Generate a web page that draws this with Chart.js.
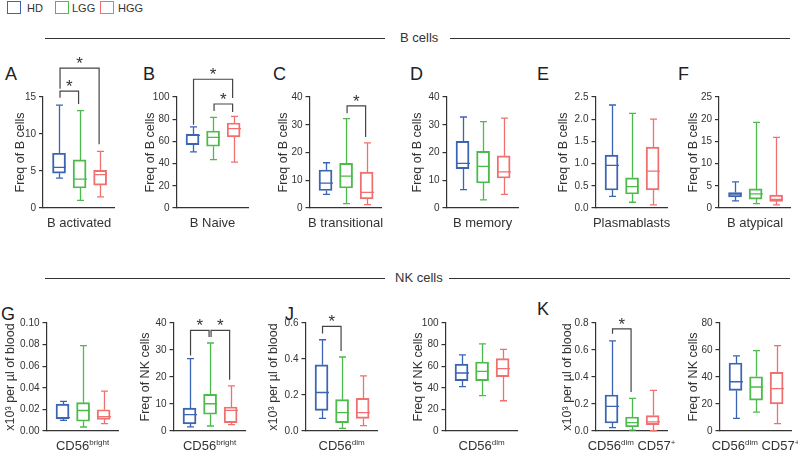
<!DOCTYPE html>
<html>
<head>
<meta charset="utf-8">
<script src="https://cdn.jsdelivr.net/npm/chart.js@4.4.1/dist/chart.umd.min.js"></script>
<style>
  body { margin: 0; background: #fff; font-family: "Liberation Sans", Arial, sans-serif; color: #333; }
  #page { position: relative; width: 798px; height: 453px; overflow: hidden; }
  .abs { position: absolute; white-space: nowrap; }
  .sq { position: absolute; width: 12px; height: 11px; border: 1.5px solid; }
  .line { position: absolute; height: 0; border-top: 1px solid #333; }
  .letter { position: absolute; font-size: 18px; line-height: 18px; color: #222; }
  .xt { position: absolute; font-size: 13px; line-height: 13px; transform: translateX(-50%); white-space: nowrap; }
  .xt sup { font-size: 8px; vertical-align: 5px; line-height: 0; }
  canvas { position: absolute; }
</style>
</head>
<body>
<div id="page">
  <div class="sq" style="left:7px;top:1px;border-color:#3b64b3"></div>
  <div class="abs" style="left:27px;top:2px;font-size:11px">HD</div>
  <div class="sq" style="left:55px;top:1px;border-color:#4cbb4c"></div>
  <div class="abs" style="left:72px;top:2px;font-size:11px">LGG</div>
  <div class="sq" style="left:100px;top:1px;border-color:#f07070"></div>
  <div class="abs" style="left:118px;top:2px;font-size:11px">HGG</div>

  <div class="line" style="left:45px;width:340px;top:38px"></div>
  <div class="abs" style="left:400px;top:31px;font-size:13px;line-height:13px">B cells</div>
  <div class="line" style="left:450px;width:340px;top:38px"></div>

  <div class="line" style="left:45px;width:340px;top:278px"></div>
  <div class="abs" style="left:395px;top:271px;font-size:13px;line-height:13px">NK cells</div>
  <div class="line" style="left:449px;width:341px;top:278px"></div>

  <div class="letter" style="left:5px;top:65px">A</div>
  <div class="letter" style="left:143px;top:65px">B</div>
  <div class="letter" style="left:273px;top:65px">C</div>
  <div class="letter" style="left:410px;top:65px">D</div>
  <div class="letter" style="left:537px;top:65px">E</div>
  <div class="letter" style="left:678px;top:65px">F</div>
  <div class="letter" style="left:1px;top:305px">G</div>
  <div class="letter" style="left:285px;top:305px">J</div>
  <div class="letter" style="left:537px;top:300px">K</div>
</div>
<script>
// groups
const groups = ["HD", "LGG", "HGG"];
const groupColors = ["#3b64b3", "#4cbb4c", "#f07070"];

// box stats per group: [min, q1, median, q3, max]
const bActivated = [[4.05, 4.7, 5.5, 7.4, 13.9], [1.04, 2.7, 3.9, 6.5, 13.15], [1.5, 3.1, 4.5, 5.1, 7.65]];
const bNaive = [[50.5, 57, 65.5, 66.7, 73], [43.5, 55.6, 63.7, 69.4, 81.7], [41.4, 64, 71.5, 76.6, 82.6]];
const bTransitional = [[4.9, 6.3, 9.0, 13.7, 16.3], [1.6, 7.2, 11.5, 16.1, 32.2], [1.2, 3.3, 5.6, 12.9, 23.5]];
const bMemory = [[6.6, 14.2, 16.1, 24, 32.8], [2.9, 9, 15, 20.4, 31.1], [4.9, 10.8, 13, 18.8, 32.4]];
const plasmablasts = [[0.26, 0.405, 0.96, 1.19, 2.32], [0.13, 0.315, 0.48, 0.68, 2.13], [0.07, 0.41, 0.83, 1.37, 2.0]];
const bAtypical = [[1.6, 2.5, 3.15, 3.5, 5.9], [1.0, 2.0, 3.2, 4.3, 19.3], [0.7, 1.5, 1.95, 2.9, 15.9]];
const nkBrightCount = [[0.0099, 0.0111, 0.0123, 0.025, 0.0275], [0.0037, 0.009, 0.019, 0.0262, 0.079], [0.0068, 0.0108, 0.0133, 0.0197, 0.037]];
const nkBrightFreq = [[1.5, 2.6, 6.05, 8.5, 26.8], [1.85, 6.2, 10.1, 13.6, 32.6], [2.35, 3.1, 7.65, 8.9, 16.7]];
const nkDimCount = [[0.07, 0.115, 0.214, 0.368, 0.507], [0.015, 0.046, 0.102, 0.174, 0.411], [0.03, 0.07, 0.102, 0.181, 0.306]];
const nkDimFreq = [[41, 46.6, 53.7, 62, 70.4], [32.7, 46.6, 55.2, 63.9, 80.6], [28, 50.3, 57.7, 67, 75.6]];
const nkDim57Count = [[0.025, 0.059, 0.183, 0.267, 0.667], [0.007, 0.03, 0.062, 0.104, 0.242], [0.002, 0.047, 0.067, 0.114, 0.301]];
const nkDim57Freq = [[9.4, 30, 36.5, 50.4, 55.6], [14, 22.9, 32.6, 40.2, 59.5], [5.4, 20, 31.4, 43.5, 63.2]];

// significance: [group a, group b, bracket level, left leg end, right leg end]
const bActivatedSig = [[0, 1, 15.8, 14.9, 14.05], [0, 2, 18.9, 16.1, 8.6]];
const bNaiveSig = [[0, 2, 116, 75, 99], [1, 2, 93.7, 87.5, 86.5]];
const bTransitionalSig = [[1, 2, 36.8, 34.1, 25.6]];
const nkBrightFreqSig = [[0, 1, 37.3, 28, 34.8], [1, 2, 37.3, 34.8, 19]];
const nkDimCountSig = [[0, 1, 0.581, 0.541, 0.444]];
const nkDim57CountSig = [[0, 1, 0.756, 0.721, 0.289]];

// tick labels
const ticks15 = ["0", "5", "10", "15"];
const ticks100 = ["0", "20", "40", "60", "80", "100"];
const ticks40 = ["0", "10", "20", "30", "40"];
const ticks25d = ["0.0", "0.5", "1.0", "1.5", "2.0", "2.5"];
const ticks25 = ["0", "5", "10", "15", "20", "25"];
const ticks010 = ["0.00", "0.02", "0.04", "0.06", "0.08", "0.10"];
const ticks06 = ["0.0", "0.2", "0.4", "0.6"];
const ticks08 = ["0.0", "0.2", "0.4", "0.6", "0.8"];
const ticks80 = ["0", "20", "40", "60", "80"];

const panelTitles = ["B activated", "B Naive", "B transitional", "B memory", "Plasmablasts", "B atypical",
  "CD56<sup>bright</sup>", "CD56<sup>bright</sup>", "CD56<sup>dim</sup>", "CD56<sup>dim</sup>",
  "CD56<sup>dim</sup> CD57<sup>+</sup>", "CD56<sup>dim</sup> CD57<sup>+</sup>"];
const freqB = "Freq of B cells", freqNK = "Freq of NK cells", perUl = "x10\u00b3 per \u00b5l of blood";

const panels = [
  [bActivated, bActivatedSig, ticks15, freqB],
  [bNaive, bNaiveSig, ticks100, freqB],
  [bTransitional, bTransitionalSig, ticks40, freqB],
  [bMemory, [], ticks40, freqB],
  [plasmablasts, [], ticks25d, freqB],
  [bAtypical, [], ticks25, freqB],
  [nkBrightCount, [], ticks010, perUl],
  [nkBrightFreq, nkBrightFreqSig, ticks40, freqNK],
  [nkDimCount, nkDimCountSig, ticks06, perUl],
  [nkDimFreq, [], ticks100, freqNK],
  [nkDim57Count, nkDim57CountSig, ticks08, perUl],
  [nkDim57Freq, [], ticks80, freqNK]
];

// layout: [y title centre x, first box centre x, row]
const layout = [
  [20, 58.5, 0], [150, 192, 0], [283, 325, 0], [417, 462, 0], [563, 611, 0], [693, 734.5, 0],
  [10, 62, 1], [145, 189, 1], [273, 321, 1], [418, 461, 1], [567, 611, 1], [693, 735, 1]
];
const rowTop = [50, 285], rowPadTop = [47, 38], rowHeight = [168, 156], rowTitleTop = [216, 439];
const xMin = -0.78, xMax = 2.7, plotW = 71.5, firstOff = 16;
const yTitleSize = 12.5;

Chart.defaults.font.family = '"Liberation Sans", Arial, sans-serif';
Chart.defaults.color = "#333";

const boxPlugin = {
  id: "boxes",
  afterDatasetsDraw(chart, args, opts) {
    const { ctx, scales: { x, y } } = chart;
    const half = 6.5, cap = 3.5;
    ctx.save();
    ctx.lineWidth = 1.3;
    opts.stats.forEach((s, i) => {
      const cx = Math.round(x.getPixelForValue(i)) + 0.5;
      ctx.strokeStyle = groupColors[i];
      ctx.beginPath();
      ctx.moveTo(cx, y.getPixelForValue(s[3]));
      ctx.lineTo(cx, y.getPixelForValue(s[4]));
      ctx.moveTo(cx - cap, y.getPixelForValue(s[4]));
      ctx.lineTo(cx + cap, y.getPixelForValue(s[4]));
      ctx.moveTo(cx, y.getPixelForValue(s[1]));
      ctx.lineTo(cx, y.getPixelForValue(s[0]));
      ctx.moveTo(cx - cap, y.getPixelForValue(s[0]));
      ctx.lineTo(cx + cap, y.getPixelForValue(s[0]));
      ctx.moveTo(cx - half, y.getPixelForValue(s[2]));
      ctx.lineTo(cx + half, y.getPixelForValue(s[2]));
      ctx.stroke();
    });
    ctx.strokeStyle = "#444";
    ctx.fillStyle = "#333";
    ctx.lineWidth = 1.2;
    ctx.font = '17px "Liberation Sans", Arial, sans-serif';
    ctx.textAlign = "center";
    ctx.textBaseline = "alphabetic";
    opts.sig.forEach(b => {
      const x1 = x.getPixelForValue(b[0]) + 1, x2 = x.getPixelForValue(b[1]) - 1;
      const yl = y.getPixelForValue(b[2]);
      ctx.beginPath();
      ctx.moveTo(x1, y.getPixelForValue(b[3]));
      ctx.lineTo(x1, yl);
      ctx.lineTo(x2, yl);
      ctx.lineTo(x2, y.getPixelForValue(b[4]));
      ctx.stroke();
      ctx.fillText("*", (x1 + x2) / 2, yl + 1);
    });
    ctx.restore();
  }
};

const page = document.getElementById("page");

panels.forEach((p, k) => {
  const [stats, sig, tickLabels, yTitle] = p;
  const [titleX, firstX, row] = layout[k];
  const axisX = firstX - firstOff;
  const left = titleX - yTitleSize * 0.6;
  const yw = axisX - left;
  const canvas = document.createElement("canvas");
  canvas.width = Math.round(yw + plotW + 4);
  canvas.height = rowHeight[row];
  canvas.style.left = left + "px";
  canvas.style.top = rowTop[row] + "px";
  page.appendChild(canvas);

  const tickVals = tickLabels.map(parseFloat);
  const chart = new Chart(canvas.getContext("2d"), {
    type: "bar",
    data: {
      datasets: [{
        data: stats.map((s, i) => ({ x: i, y: [s[1], s[3]] })),
        backgroundColor: "rgba(0,0,0,0)",
        borderColor: groupColors,
        borderWidth: 1.3,
        borderSkipped: false,
        barThickness: 13
      }]
    },
    options: {
      responsive: false,
      animation: false,
      layout: { padding: { top: rowPadTop[row], left: 0, right: canvas.width - yw - plotW, bottom: 10 } },
      plugins: {
        legend: { display: false },
        tooltip: { enabled: false },
        boxes: { stats: stats, sig: sig }
      },
      scales: {
        x: {
          type: "linear",
          min: xMin,
          max: xMax,
          offset: false,
          ticks: { display: false },
          grid: { display: false },
          border: { display: true, color: "#333", width: 1.2 },
          afterFit: s => { s.height = 0; }
        },
        y: {
          min: 0,
          max: tickVals[tickVals.length - 1],
          afterBuildTicks: s => { s.ticks = tickVals.map(v => ({ value: v })); },
          ticks: {
            font: { size: 10 },
            color: "#333",
            padding: 3,
            callback: (v, i) => tickLabels[i]
          },
          grid: { display: true, drawOnChartArea: false, drawTicks: true, tickLength: 4, color: "#333", lineWidth: 1.2 },
          border: { display: true, color: "#333", width: 1.2 },
          title: { display: true, text: yTitle, font: { size: yTitleSize }, color: "#333", padding: 0 },
          afterFit: s => { s.width = yw; }
        }
      }
    },
    plugins: [boxPlugin]
  });

  const t = document.createElement("div");
  t.className = "xt";
  t.innerHTML = panelTitles[k];
  t.style.left = (left + chart.scales.x.getPixelForValue(1)) + "px";
  t.style.top = rowTitleTop[row] + "px";
  page.appendChild(t);
});
</script>
</body>
</html>
